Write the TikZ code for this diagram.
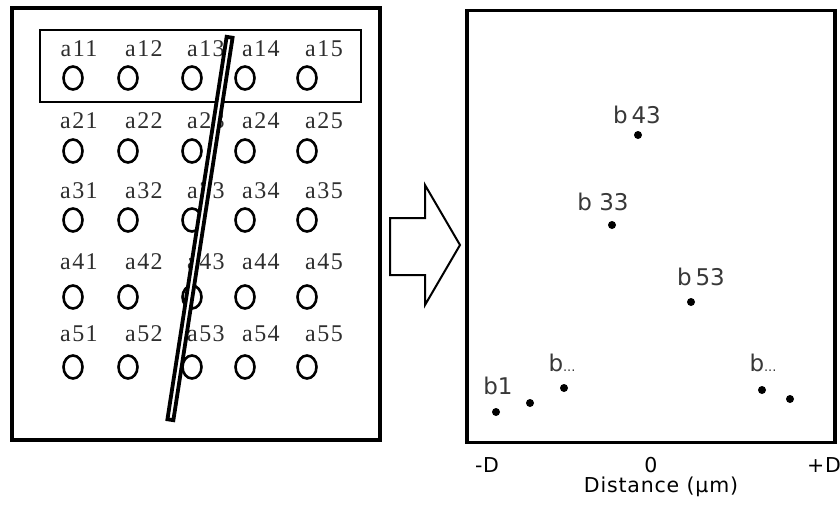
\documentclass[tikz,border=0pt]{standalone}
\usepackage{fontspec}
\usetikzlibrary{shapes.geometric}
\newfontfamily\serlab[LetterSpace=6]{Liberation Serif}
\newfontfamily\sanlab{DejaVu Sans}
\newfontfamily\axfont[LetterSpace=4]{DejaVu Sans}
\begin{document}
\begin{tikzpicture}[x=1pt,y=-1pt,
  frame/.style={draw=black,line width=3.5pt},
  cell/.style={draw=black,line width=2.6pt,ellipse,minimum width=19pt,minimum height=23pt,inner sep=0pt},
  alab/.style={text=black!82,font=\serlab\fontsize{24}{24}\selectfont,inner sep=0pt,anchor=center},
  blab/.style={text=black!78,font=\sanlab\fontsize{23}{23}\selectfont,inner sep=0pt,anchor=center},
  dot/.style={circle,fill=black,minimum size=8pt,inner sep=0pt},
  axlab/.style={text=black,font=\axfont\fontsize{20.5}{20.5}\selectfont,inner sep=0pt,anchor=center}]
\useasboundingbox (0,0) rectangle (840,504);
\fill[white] (0,0) rectangle (840,504);
% left frame
\node[frame,minimum width=368pt,minimum height=432pt,inner sep=0pt] (lframe) at (196,224) {};
\node[draw=black,line width=1.3pt,minimum width=321pt,minimum height=72pt,inner sep=0pt] (row1box) at (200.5,66) {};
% labels and cells
\foreach \r/\ly/\cy in {1/49/78,2/121/151,3/191/220,4/262/297,5/334/367}{
  \foreach \c/\lx/\cx in {1/79/73,2/144/128,3/206/192,4/261/245,5/324/307}{
    \node[alab] (a\r\c) at (\lx,\ly) {a\r\c};
    \node[cell] (c\r\c) at (\cx,\cy) {};
  }
}
% slanted bar
\node[draw=black,fill=white,line width=3.8pt,minimum width=6pt,minimum height=387pt,inner sep=0pt,rotate=-8.8] (bar) at (200,228.5) {};
% hollow arrow
\draw[line width=2pt,line join=miter,fill=white] (390,218) -- (425,218) -- (425,185) -- (460,245) -- (425,305) -- (425,275) -- (390,275) -- cycle;
% right frame
\node[frame,minimum width=368pt,minimum height=432pt,inner sep=0pt] (rframe) at (651,226.5) {};
% points
\node[dot] (p43) at (638,135) {};
\node[dot] (p33) at (612,225) {};
\node[dot] (p53) at (691,302) {};
\node[dot] (p1) at (496,412) {};
\node[dot] (p2) at (530,403) {};
\node[dot] (p3) at (564,388) {};
\node[dot] (p4) at (762,390) {};
\node[dot] (p5) at (790,399) {};
\node[blab] (l43) at (637,115) {b\,43};
\node[blab] (l33) at (603,202) {b 33};
\node[blab] (l53) at (701,277) {b\,53};
\node[blab] (l1) at (498,386) {b1};
\node[blab] (l3) at (562,363) {b{\fontsize{13}{13}\selectfont...}};
\node[blab] (l4) at (763,363) {b{\fontsize{13}{13}\selectfont...}};
% axis labels
\node[axlab] (mD) at (487,465) {-D};
\node[axlab] (zero) at (651,465) {0};
\node[axlab] (pD) at (824,465) {+D};
\node[axlab] (dist) at (661,487) {Distance (µm)};
\end{tikzpicture}
\end{document}
